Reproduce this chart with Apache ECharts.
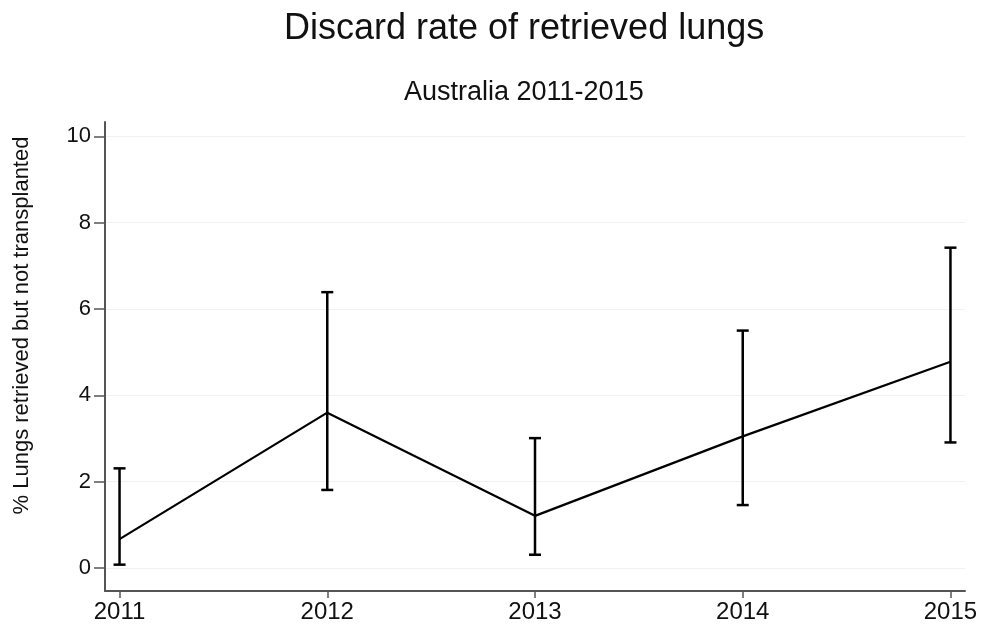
<!DOCTYPE html>
<html>
<head>
<meta charset="utf-8">
<script src="https://cdn.jsdelivr.net/npm/echarts@6/dist/echarts.min.js"></script>
<style>
  html, body { margin: 0; padding: 0; background: #fff; }
  #chart { width: 981px; height: 625px; }
</style>
</head>
<body>
<div id="chart"></div>
<script>
// data
const years = [2011, 2012, 2013, 2014, 2015];
const rates = [0.67, 3.60, 1.21, 3.05, 4.78];
const lower = [0.08, 1.81, 0.31, 1.46, 2.91];
const upper = [2.31, 6.39, 3.01, 5.50, 7.42];
const yTicks = [0, 2, 4, 6, 8, 10];

const font = "'Liberation Sans', Arial, sans-serif";

const chart = echarts.init(document.getElementById('chart'));

const option = {
  backgroundColor: '#fff',
  animation: false,
  title: [
    {
      text: 'Discard rate of retrieved lungs',
      left: 279,
      top: 6,
      textStyle: { fontFamily: font, fontSize: 36, fontWeight: 'normal', color: '#111' }
    },
    {
      text: 'Australia 2011-2015',
      left: 399,
      top: 74,
      textStyle: { fontFamily: font, fontSize: 27, fontWeight: 'normal', color: '#111' }
    }
  ],
  grid: { left: 105, right: 16, top: 122, bottom: 34 },
  xAxis: {
    type: 'value',
    min: 2010.93,
    max: 2015.07,
    axisLine: { onZero: false, lineStyle: { color: '#555', width: 2 } },
    axisTick: { length: 7, lineStyle: { color: '#555', width: 1.5 }, customValues: years },
    axisLabel: {
      customValues: years,
      formatter: (v) => String(v),
      fontFamily: font, fontSize: 24, color: '#111', margin: 9
    },
    splitLine: { show: false }
  },
  yAxis: {
    type: 'value',
    min: -0.53,
    max: 10.33,
    name: '% Lungs retrieved but not transplanted',
    nameLocation: 'middle',
    nameGap: 72,
    nameTextStyle: { fontFamily: font, fontSize: 22, color: '#111', padding: [0, 0, 0, 62] },
    axisLine: { show: true, onZero: false, lineStyle: { color: '#555', width: 2 } },
    axisTick: { show: true, length: 11, lineStyle: { color: '#555', width: 1.5 }, customValues: yTicks },
    axisLabel: { customValues: yTicks, fontFamily: font, fontSize: 22, color: '#111', margin: 14 },
    splitLine: { show: true, lineStyle: { color: '#eef3ef', width: 1 } }
  },
  series: [
    {
      type: 'line',
      data: years.map((y, i) => [y, rates[i]]),
      showSymbol: false,
      lineStyle: { color: '#000', width: 2.2 },
      z: 3
    },
    {
      type: 'custom',
      data: years.map((y, i) => [y, lower[i], upper[i]]),
      renderItem: function (params, api) {
        const lo = api.coord([api.value(0), api.value(1)]);
        const hi = api.coord([api.value(0), api.value(2)]);
        const half = 6;
        const style = { stroke: '#000', lineWidth: 2.5 };
        return {
          type: 'group',
          children: [
            { type: 'line', shape: { x1: lo[0], y1: lo[1], x2: hi[0], y2: hi[1] }, style: style },
            { type: 'line', shape: { x1: lo[0] - half, y1: lo[1], x2: lo[0] + half, y2: lo[1] }, style: style },
            { type: 'line', shape: { x1: hi[0] - half, y1: hi[1], x2: hi[0] + half, y2: hi[1] }, style: style }
          ]
        };
      },
      z: 4
    }
  ]
};

chart.setOption(option);
</script>
</body>
</html>
